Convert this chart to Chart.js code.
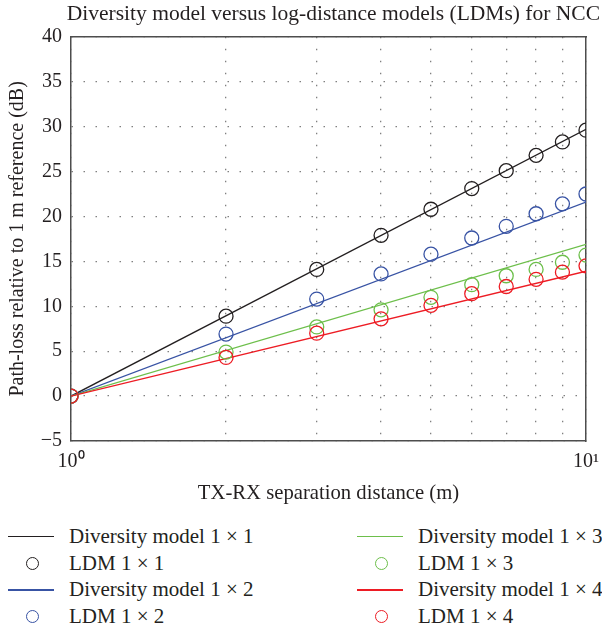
<!DOCTYPE html>
<html>
<head>
<meta charset="utf-8">
<script src="https://cdn.jsdelivr.net/npm/chart.js@4/dist/chart.umd.min.js"></script>
<style>
  body { margin: 0; background: #fff; }
  #wrap { position: relative; width: 602px; height: 626px; font-family: "Liberation Serif", serif; color: #231f20; }
  #box { position: absolute; left: 0; top: 0; width: 602px; height: 510px; }
  #legend { position: absolute; left: 0; top: 523px; width: 602px; }
  .col { position: absolute; top: 0; }
  .item { height: 26.7px; line-height: 26.7px; font-size: 21px; white-space: nowrap; position: relative; }
  .line { position: absolute; left: 0; top: 13px; width: 46px; height: 1.3px; }
  .ring { position: absolute; left: 18px; top: 7px; width: 11px; height: 11px; border: 1.3px solid; border-radius: 50%; }
  .txt { position: absolute; left: 61px; top: 0; }
</style>
</head>
<body>
<div id="wrap">
  <div id="box"><canvas id="myChart"></canvas></div>
  <div id="legend"></div>
</div>
<script>
// separation distances (m)
const distances = [1, 2, 3, 4, 5, 6, 7, 8, 9, 10];
// measured log-distance models (dB)
const ldm11 = [0, 8.9, 14.1, 17.9, 20.8, 23.1, 25.1, 26.8, 28.3, 29.6];
const ldm12 = [0, 6.9, 10.8, 13.6, 15.8, 17.6, 18.9, 20.3, 21.4, 22.5];
const ldm13 = [0, 4.9, 7.7, 9.6, 11.0, 12.4, 13.4, 14.1, 14.9, 15.7];
const ldm14 = [0, 4.3, 7.0, 8.6, 10.1, 11.4, 12.2, 13.0, 13.8, 14.5];
// diversity model lines, end points at 1 m and 10 m
const modelDistances = [1, 10];
const dm11 = [0, 29.7];
const dm12 = [0, 21.6];
const dm13 = [0, 16.9];
const dm14 = [0, 13.9];

const xTicks = [1, 2, 3, 4, 5, 6, 7, 8, 9, 10];
const xTickLabels = {1: '10\u2070', 10: '10\u00b9'};
const yTicks = [-5, 0, 5, 10, 15, 20, 25, 30, 35, 40];

const colors = {
    k: '#231f20',
    b: '#3853a4',
    g: '#6dbf4b',
    r: '#ed1c24'
};

function pts(xs, ys){
    return xs.map(function(x, i){ return {x: x, y: ys[i]}; });
}

function modelSet(label, ys, color, order){
    return {
        label: label,
        data: pts(modelDistances, ys),
        borderColor: color,
        backgroundColor: color,
        borderWidth: 1.3,
        pointRadius: 0,
        showLine: true,
        order: order
    };
}

function ldmSet(label, ys, color, order){
    return {
        label: label,
        data: pts(distances, ys),
        borderColor: color,
        backgroundColor: 'rgba(0,0,0,0)',
        borderWidth: 1.3,
        pointRadius: 7,
        pointStyle: 'circle',
        showLine: false,
        order: order
    };
}

const datasets = [
    modelSet('Diversity model 1 \u00d7 1', dm11, colors.k, 8),
    ldmSet('LDM 1 \u00d7 1', ldm11, colors.k, 4),
    modelSet('Diversity model 1 \u00d7 2', dm12, colors.b, 7),
    ldmSet('LDM 1 \u00d7 2', ldm12, colors.b, 3),
    modelSet('Diversity model 1 \u00d7 3', dm13, colors.g, 6),
    ldmSet('LDM 1 \u00d7 3', ldm13, colors.g, 2),
    modelSet('Diversity model 1 \u00d7 4', dm14, colors.r, 5),
    ldmSet('LDM 1 \u00d7 4', ldm14, colors.r, 1)
];

const serif = '"Liberation Serif", "Times New Roman", serif';
const gridColor = '#808080';

const chart = new Chart(document.getElementById('myChart'), {
    type: 'scatter',
    data: {datasets: datasets},
    options: {
        responsive: true,
        maintainAspectRatio: false,
        animation: false,
        layout: {padding: {left: 0, right: 2, top: 0, bottom: 0}},
        plugins: {
            legend: {display: false},
            tooltip: {enabled: false},
            title: {
                display: true,
                text: 'Diversity model versus log-distance models (LDMs) for NCC',
                align: 'end',
                color: colors.k,
                font: {family: serif, size: 21.5, weight: 'normal'},
                padding: {top: 1, bottom: 10}
            }
        },
        scales: {
            x: {
                type: 'logarithmic',
                min: 1,
                max: 10,
                afterBuildTicks: function(scale){
                    scale.ticks = xTicks.map(function(v){ return {value: v}; });
                },
                afterFit: function(scale){
                    scale.height = 69;
                    scale.paddingRight = 16;
                },
                ticks: {
                    autoSkip: false,
                    maxRotation: 0,
                    padding: 9,
                    color: colors.k,
                    font: {family: serif, size: 20},
                    callback: function(v){ return xTickLabels[v] || ''; }
                },
                grid: {color: gridColor, lineWidth: 1.3, drawTicks: false},
                border: {display: true, color: '#4d4d4d', width: 1.5, dash: [1.5, 10.5]},
                title: {
                    display: true,
                    text: 'TX-RX separation distance (m)',
                    color: colors.k,
                    font: {family: serif, size: 20.7},
                    padding: {top: 0, bottom: 4}
                }
            },
            y: {
                type: 'linear',
                min: -5,
                max: 40,
                afterBuildTicks: function(scale){
                    scale.ticks = yTicks.map(function(v){ return {value: v}; });
                },
                afterFit: function(scale){
                    scale.width = 71;
                },
                ticks: {
                    padding: 9,
                    color: colors.k,
                    font: {family: serif, size: 20},
                    callback: function(v){ return v < 0 ? '\u2212' + Math.abs(v) : String(v); }
                },
                grid: {color: gridColor, lineWidth: 1.3, drawTicks: false},
                border: {display: true, color: '#4d4d4d', width: 1.5, dash: [1.5, 10.5]},
                title: {
                    display: true,
                    text: 'Path-loss relative to 1 m reference (dB)',
                    color: colors.k,
                    font: {family: serif, size: 20},
                    padding: {top: 6, bottom: 0}
                }
            },
            x2: {
                type: 'linear',
                position: 'top',
                ticks: {display: false},
                grid: {display: false, drawTicks: false},
                border: {display: true, color: '#4d4d4d', width: 1.5}
            },
            y2: {
                type: 'linear',
                position: 'right',
                ticks: {display: false},
                grid: {display: false, drawTicks: false},
                border: {display: true, color: '#4d4d4d', width: 1.5}
            }
        }
    }
});

(function(){
    const legend = document.getElementById('legend');
    const colLeft = [8, 357];
    for(let c = 0; c < 2; c++){
        const col = document.createElement('div');
        col.className = 'col';
        col.style.left = colLeft[c] + 'px';
        for(let r = 0; r < 4; r++){
            const ds = chart.data.datasets[c * 4 + r];
            const item = document.createElement('div');
            item.className = 'item';
            const sym = document.createElement('span');
            if(ds.showLine){
                sym.className = 'line';
                sym.style.backgroundColor = ds.borderColor;
            }else{
                sym.className = 'ring';
                sym.style.borderColor = ds.borderColor;
            }
            const txt = document.createElement('span');
            txt.className = 'txt';
            txt.textContent = ds.label;
            item.appendChild(sym);
            item.appendChild(txt);
            col.appendChild(item);
        }
        legend.appendChild(col);
    }
})();
</script>
</body>
</html>
